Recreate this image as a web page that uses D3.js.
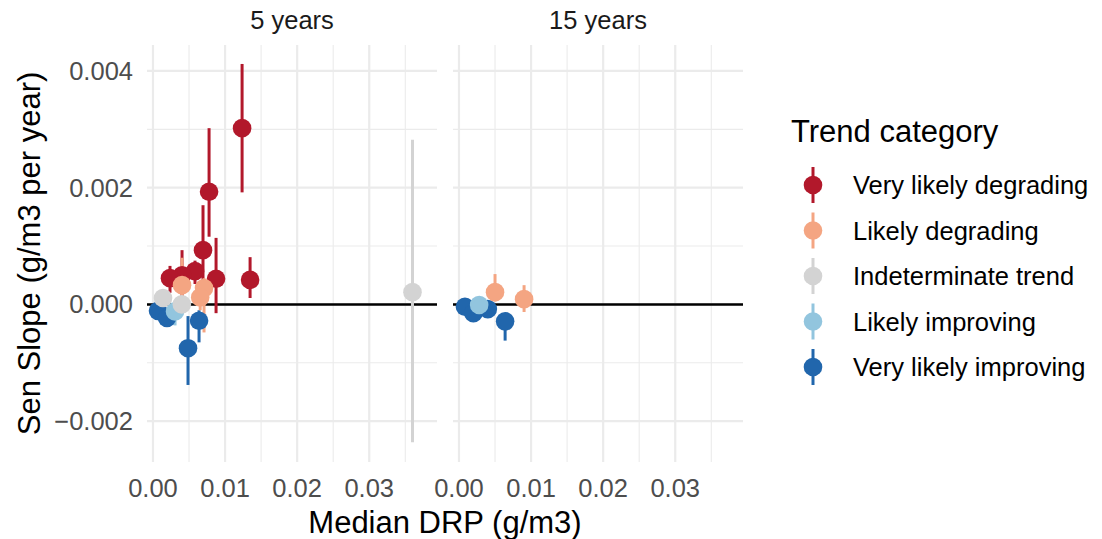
<!DOCTYPE html>
<html>
<head>
<meta charset="utf-8">
<script src="https://cdn.jsdelivr.net/npm/d3@7"></script>
<style>
  body { margin: 0; background: #fff; }
  svg { font-family: "Liberation Sans", Arial, sans-serif; }
</style>
</head>
<body>
<svg id="chart" width="1102" height="539"></svg>
<script>
// facet panels and trend categories
var periods = ["5 years", "15 years"];
var categories = ["Very likely degrading", "Likely degrading", "Indeterminate trend", "Likely improving", "Very likely improving"];
var categoryColors = ["#B2182B", "#F4A582", "#D3D3D3", "#92C5DE", "#2166AC"];

var xTicks = [0, 0.01, 0.02, 0.03];
var yTicks = [-0.002, 0, 0.002, 0.004];

// one entry per site
var pointPeriod   = ["5 years","5 years","5 years","5 years","5 years","5 years","5 years","5 years",
                     "5 years","5 years","5 years",
                     "5 years","5 years","5 years",
                     "5 years",
                     "5 years","5 years","5 years","5 years",
                     "15 years","15 years","15 years","15 years","15 years","15 years","15 years"];
var pointCategory = [0,0,0,0,0,0,0,0,
                     1,1,1,
                     2,2,2,
                     3,
                     4,4,4,4,
                     1,1,3,4,4,4,4];
var medianDRP = [0.01236, 0.00778, 0.00694, 0.00875, 0.01347, 0.00583, 0.00403, 0.00236,
                 0.00403, 0.00708, 0.00655,
                 0.00139, 0.00400, 0.03600,
                 0.00306,
                 0.00070, 0.00194, 0.00639, 0.00486,
                 0.00500, 0.00903, 0.00280, 0.00083, 0.00200, 0.00400, 0.00640];
var senSlope  = [0.00302, 0.00193, 0.00093, 0.00044, 0.00042, 0.00057, 0.00050, 0.00045,
                 0.00033, 0.00028, 0.00012,
                 0.00011, 0.00000, 0.00021,
                 -0.00012,
                 -0.00011, -0.00023, -0.00028, -0.00075,
                 0.00021, 0.00009, -0.00001, -0.00004, -0.00015, -0.00008, -0.00029];
var lowerCI   = [0.00192, 0.00116, 0.00030, -0.00015, 0.00011, 0.00035, 0.00010, 0.00020,
                 0.00000, -0.00048, -0.00010,
                 0.00000, -0.00010, -0.00236,
                 -0.00036,
                 -0.00020, -0.00030, -0.00065, -0.00138,
                 0.00005, -0.00013, -0.00008, -0.00010, -0.00022, -0.00015, -0.00062];
var upperCI   = [0.00412, 0.00302, 0.00170, 0.00114, 0.00081, 0.00075, 0.00093, 0.00066,
                 0.00080, 0.00045, 0.00025,
                 0.00020, 0.00010, 0.00282,
                 0.00000,
                 0.00000, -0.00010, -0.00010, -0.00020,
                 0.00052, 0.00033, 0.00005, 0.00002, -0.00008, 0.00000, -0.00015];

var svg = d3.select("#chart");

var panelTop = 45, panelBottom = 462, panelWidth = 290, panelGap = 16, panelLeft = 147;

var x = d3.scaleLinear().domain([-0.00083, 0.0394]).range([0, panelWidth]);
var y = d3.scaleLinear().domain([-0.0027, 0.004445]).range([panelBottom, panelTop]);

var tickFont = 25.5, titleFont = 31;
var pointR = 9.3;

// draw order: blues underneath, reds on top
var drawOrder = [4, 3, 2, 0, 1];

periods.forEach(function(period, p) {
    var g = svg.append("g").attr("transform", "translate(" + (panelLeft + p * (panelWidth + panelGap)) + ",0)");

    // minor grid
    var xMinor = [0.005, 0.015, 0.025, 0.035];
    var yMinor = [-0.001, 0.001, 0.003];
    g.selectAll(".xminor").data(xMinor).enter().append("line")
        .attr("x1", x).attr("x2", x).attr("y1", panelTop).attr("y2", panelBottom)
        .attr("stroke", "#EBEBEB").attr("stroke-width", 1.1);
    g.selectAll(".yminor").data(yMinor).enter().append("line")
        .attr("x1", 0).attr("x2", panelWidth).attr("y1", y).attr("y2", y)
        .attr("stroke", "#EBEBEB").attr("stroke-width", 1.1);

    // major grid
    g.selectAll(".xmajor").data(xTicks).enter().append("line")
        .attr("x1", x).attr("x2", x).attr("y1", panelTop).attr("y2", panelBottom)
        .attr("stroke", "#EBEBEB").attr("stroke-width", 2.2);
    g.selectAll(".ymajor").data(yTicks).enter().append("line")
        .attr("x1", 0).attr("x2", panelWidth).attr("y1", y).attr("y2", y)
        .attr("stroke", "#EBEBEB").attr("stroke-width", 2.2);

    // zero line
    g.append("line")
        .attr("x1", 0).attr("x2", panelWidth).attr("y1", y(0)).attr("y2", y(0))
        .attr("stroke", "#000").attr("stroke-width", 2.5);

    // strip label
    g.append("text")
        .attr("x", panelWidth / 2).attr("y", 20)
        .attr("text-anchor", "middle").attr("dominant-baseline", "central")
        .attr("font-size", tickFont).attr("fill", "#1A1A1A")
        .text(period);

    // x tick labels
    g.selectAll(".xlab").data(xTicks).enter().append("text")
        .attr("x", x).attr("y", 488)
        .attr("text-anchor", "middle").attr("dominant-baseline", "central")
        .attr("font-size", tickFont).attr("fill", "#4D4D4D")
        .text(d3.format(".2f"));

    // points with ranges
    var idx = d3.range(medianDRP.length).filter(function(i) { return pointPeriod[i] === period; });
    idx.sort(function(a, b) { return drawOrder.indexOf(pointCategory[a]) - drawOrder.indexOf(pointCategory[b]); });

    idx.forEach(function(i) {
        var col = categoryColors[pointCategory[i]];
        g.append("line")
            .attr("x1", x(medianDRP[i])).attr("x2", x(medianDRP[i]))
            .attr("y1", y(lowerCI[i])).attr("y2", y(upperCI[i]))
            .attr("stroke", col).attr("stroke-width", 3);
    });
    idx.forEach(function(i) {
        g.append("circle")
            .attr("cx", x(medianDRP[i])).attr("cy", y(senSlope[i])).attr("r", pointR)
            .attr("fill", categoryColors[pointCategory[i]]);
    });
});

// y tick labels (left panel only)
svg.selectAll(".ylab").data(yTicks).enter().append("text")
    .attr("x", 133).attr("y", y)
    .attr("text-anchor", "end").attr("dominant-baseline", "central")
    .attr("font-size", tickFont).attr("fill", "#4D4D4D")
    .text(function(d) { return d3.format(".3f")(d).replace("-", "\u2212"); });

// axis titles
svg.append("text")
    .attr("x", panelLeft + panelWidth + panelGap / 2).attr("y", 522)
    .attr("text-anchor", "middle").attr("dominant-baseline", "central")
    .attr("font-size", titleFont).attr("fill", "#000")
    .text("Median DRP (g/m3)");

svg.append("text")
    .attr("transform", "translate(29," + ((panelTop + panelBottom) / 2) + ") rotate(-90)")
    .attr("text-anchor", "middle").attr("dominant-baseline", "central")
    .attr("font-size", titleFont).attr("fill", "#000")
    .text("Sen Slope (g/m3 per year)");

// legend
var legend = svg.append("g");
legend.append("text")
    .attr("x", 791).attr("y", 131)
    .attr("dominant-baseline", "central")
    .attr("font-size", titleFont).attr("fill", "#000")
    .text("Trend category");

categories.forEach(function(c, i) {
    var cy = 185 + i * 45.5;
    legend.append("line")
        .attr("x1", 813).attr("x2", 813).attr("y1", cy - 18).attr("y2", cy + 18)
        .attr("stroke", categoryColors[i]).attr("stroke-width", 3);
    legend.append("circle")
        .attr("cx", 813).attr("cy", cy).attr("r", pointR)
        .attr("fill", categoryColors[i]);
    legend.append("text")
        .attr("x", 853).attr("y", cy)
        .attr("dominant-baseline", "central")
        .attr("font-size", tickFont).attr("fill", "#000")
        .text(c);
});
</script>
</body>
</html>
